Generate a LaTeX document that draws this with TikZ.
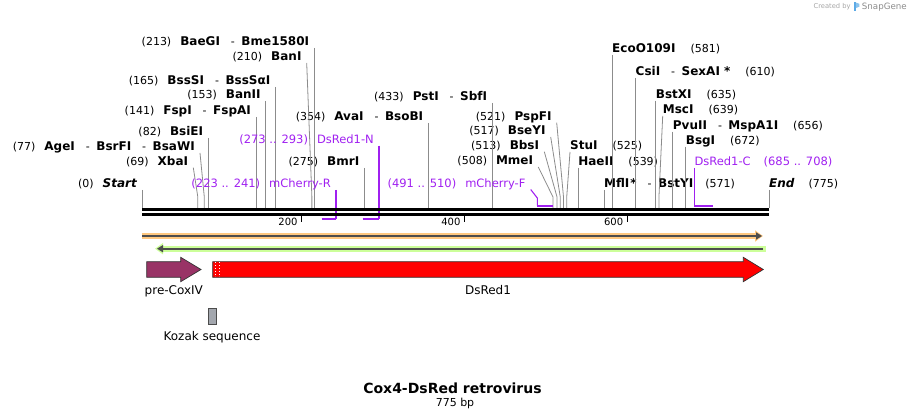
\documentclass[tikz,border=0pt]{standalone}
\usepackage{fontspec}
\setmainfont{DejaVu Sans}
\usepackage{tikz}
\usetikzlibrary{arrows.meta}
\definecolor{primcol}{HTML}{A020F0}
\definecolor{cutgray}{HTML}{8C8C8C}
\definecolor{coxcol}{HTML}{993366}
\definecolor{dsred}{HTML}{FF0000}
\definecolor{featline}{HTML}{333333}
\definecolor{orfor}{HTML}{FFC880}
\definecolor{orfgreen}{HTML}{CCFF99}
\definecolor{orfdark}{HTML}{4D4D4D}
\definecolor{kozakgray}{HTML}{A3A7AE}
\definecolor{snapblue}{HTML}{5AA9E6}
\newcommand{\ename}[1]{{\fontsize{12}{14}\selectfont\bfseries #1}}
\newcommand{\esep}{\hspace{11pt}-\hspace{6.5pt}}
\newcommand{\pgap}{\hspace{9pt}}
\newcommand{\ngap}{\hspace{15pt}}

\begin{document}
\begin{tikzpicture}[x=1pt, y=-1pt]
\tikzstyle{lsite}=[anchor=south east, inner xsep=5pt, inner ysep=0pt, text depth=2pt, font=\fontsize{11}{13}\selectfont]
\tikzstyle{rsite}=[anchor=south west, inner xsep=0pt, inner ysep=0pt, text depth=2pt, font=\fontsize{11}{13}\selectfont]
\tikzstyle{prm}=[text=primcol, font=\fontsize{11.5}{13}\selectfont]
\tikzstyle{cut}=[draw=cutgray, line width=.8pt]
\tikzstyle{primer}=[draw=primcol, line width=1.1pt]
\tikzstyle{primerbar}=[draw=primcol, line width=2pt]
\tikzstyle{flabel}=[anchor=base, inner sep=0pt, font=\fontsize{12}{14}\selectfont]
\useasboundingbox (0,0) rectangle (911,419);

% positions on the sequence
\foreach \p in {0,69,77,82,141,153,165,210,213,275,354,433,508,513,517,521,525,539,571,581,610,635,639,656,672,775}
  \coordinate (p\p) at ({142+.809*\p},208);
\coordinate (knee) at (0,197);
\coordinate (r223) at (321.7,219);
\coordinate (r241) at (336,219);
\coordinate (r273) at (362.7,219);
\coordinate (r293) at (379,219);
\coordinate (f491) at (537.3,205.7);
\coordinate (f510) at (552.7,205.7);
\coordinate (f685) at (694.3,205.7);
\coordinate (f708) at (712.7,205.7);

% enzymes, left side
\node[lsite] (Start) at (p0 |- 0,190) {(0)\pgap\ename{\itshape Start}};
\node[lsite] (XbaI) at (193.3,167.7) {(69)\pgap\ename{XbaI}};
\node[lsite] (AgeI) at (200,153) {(77)\pgap\ename{AgeI}\esep\ename{BsrFI}\esep\ename{BsaWI}};
\node[lsite] (BsiEI) at (p82 |- 0,138) {(82)\pgap\ename{BsiEI}};
\node[lsite] (FspI) at (p141 |- 0,117) {(141)\pgap\ename{FspI}\esep\ename{FspAI}};
\node[lsite] (BanII) at (p153 |- 0,101) {(153)\pgap\ename{BanII}};
\node[lsite] (BssSI) at (p165 |- 0,87) {(165)\pgap\ename{BssSI}\esep\ename{BssSαI}};
\node[lsite] (BanI) at (306.7,63) {(210)\pgap\ename{BanI}};
\node[lsite] (BaeGI) at (p213 |- 0,48) {(213)\pgap\ename{BaeGI}\esep\ename{Bme1580I}};
\node[lsite] (BmrI) at (p275 |- 0,168) {(275)\pgap\ename{BmrI}};
\node[lsite] (AvaI) at (p354 |- 0,123) {(354)\pgap\ename{AvaI}\esep\ename{BsoBI}};
\node[lsite] (PstI) at (p433 |- 0,103) {(433)\pgap\ename{PstI}\esep\ename{SbfI}};
\node[lsite] (MmeI) at (538.3,167) {(508)\pgap\ename{MmeI}};
\node[lsite] (BbsI) at (544.3,151.7) {(513)\pgap\ename{BbsI}};
\node[lsite] (BseYI) at (550.7,137) {(517)\pgap\ename{BseYI}};
\node[lsite] (PspFI) at (556.7,122.7) {(521)\pgap\ename{PspFI}};

% enzymes, right side
\node[rsite] (StuI) at (570,152) {\ename{StuI}\ngap(525)};
\node[rsite] (HaeII) at (p539 |- 0,167.7) {\ename{HaeII}\ngap(539)};
\node[rsite] (MflI) at (p571 |- 0,190) {\ename{MflI\kern1pt*}\esep\ename{BstYI}\hspace{12pt}(571)};
\node[rsite] (EcoO109I) at (p581 |- 0,55) {\ename{EcoO109I}\ngap(581)};
\node[rsite] (CsiI) at (p610 |- 0,78) {\ename{CsiI}\esep\ename{SexAI *}\ngap(610)};
\node[rsite] (BstXI) at (p635 |- 0,100.7) {\ename{BstXI}\ngap(635)};
\node[rsite] (MscI) at (662.7,116) {\ename{MscI}\ngap(639)};
\node[rsite] (PvuII) at (p656 |- 0,131.7) {\ename{PvuII}\esep\ename{MspA1I}\ngap(656)};
\node[rsite] (BsgI) at (p672 |- 0,146.7) {\ename{BsgI}\ngap(672)};
\node[rsite] (End) at (p775 |- 0,190) {\ename{\itshape End}\hspace{14pt}(775)};

\draw[cut] (Start.south east) -- (p0);
\draw[cut] (XbaI.south east) -- (p69 |- knee) -- (p69);
\draw[cut] (AgeI.south east) -- (p77 |- knee) -- (p77);
\draw[cut] (BsiEI.south east) -- (p82);
\draw[cut] (FspI.south east) -- (p141);
\draw[cut] (BanII.south east) -- (p153);
\draw[cut] (BssSI.south east) -- (p165);
\draw[cut] (BanI.south east) -- (p210 |- knee) -- (p210);
\draw[cut] (BaeGI.south east) -- (p213);
\draw[cut] (BmrI.south east) -- (p275);
\draw[cut] (AvaI.south east) -- (p354);
\draw[cut] (PstI.south east) -- (p433);
\draw[cut] (MmeI.south east) -- (p508 |- knee) -- (p508);
\draw[cut] (BbsI.south east) -- (p513 |- knee) -- (p513);
\draw[cut] (BseYI.south east) -- (p517 |- knee) -- (p517);
\draw[cut] (PspFI.south east) -- (p521 |- knee) -- (p521);
\draw[cut] (StuI.south west) -- (p525 |- knee) -- (p525);
\draw[cut] (HaeII.south west) -- (p539);
\draw[cut] (MflI.south west) -- (p571);
\draw[cut] (EcoO109I.south west) -- (p581);
\draw[cut] (CsiI.south west) -- (p610);
\draw[cut] (BstXI.south west) -- (p635);
\draw[cut] (MscI.south west) -- (p639 |- knee) -- (p639);
\draw[cut] (PvuII.south west) -- (p656);
\draw[cut] (BsgI.south west) -- (p672);
\draw[cut] (End.south west) -- (p775);

% primers
\node[lsite, prm] (mChR) at (336,190) {(223 .. 241)\pgap mCherry-R};
\node[lsite, prm] (DsN) at (379,145.7) {(273 .. 293)\pgap DsRed1-N};
\node[lsite, prm] (mChF) at (530.7,189.5) {(491 .. 510)\pgap mCherry-F};
\node[rsite, prm] (DsC) at (694.3,168) {DsRed1-C\hspace{13pt}(685 .. 708)};
\draw[primer] (mChR.south east) -- (r241);
\draw[primer] (DsN.south east) -- (r293);
\draw[primer] (mChF.south east) -- (f491 |- 0,198) -- (f491);
\draw[primer] (DsC.south west) -- (f685);
\draw[primerbar] (r223) -- (r241);
\draw[primerbar] (r273) -- (r293);
\draw[primerbar] (f491) -- (f510);
\draw[primerbar] (f685) -- (f708);

% backbone and ruler
\draw[line width=2.7pt] (142,209.6) -- (769,209.6);
\draw[line width=2.4pt] (142,214.5) -- (769,214.5);
\foreach \t/\x in {200/301.7, 400/464.6, 600/627.4} {
  \draw[line width=1.5pt] (\x,215) -- (\x,222.5);
  \node[anchor=base east, inner sep=0pt, font=\fontsize{10}{12}\selectfont] at (\x-4,226) {\t};
}

% open reading frames
\draw[orfor, line width=6pt] (141.7,236) -- (758,236);
\draw[orfor, line width=3pt, -{Triangle[length=8pt,width=11pt]}] (700,236) -- (763,236);
\draw[orfdark, line width=2.2pt, -{Triangle[length=6pt,width=7pt]}] (142,236) -- (762,236);
\draw[orfgreen, line width=6pt] (160,248.7) -- (766,248.7);
\draw[orfgreen, line width=3pt, {Triangle[length=8pt,width=11pt]}-] (155,248.7) -- (200,248.7);
\draw[orfdark, line width=2.2pt, {Triangle[length=6pt,width=7pt]}-] (157,248.7) -- (763,248.7);

% features
\draw[fill=coxcol, draw=featline, line width=.7pt] (146.7,261.7) -- (180.7,261.7) -- (180.7,257.3) -- (201,269.5) -- (180.7,281.7) -- (180.7,277.3) -- (146.7,277.3) -- cycle;
\draw[fill=dsred, draw=featline, line width=.7pt] (212.7,261.7) -- (743.3,261.7) -- (743.3,257.3) -- (763.3,269.5) -- (743.3,281.7) -- (743.3,277.3) -- (212.7,277.3) -- cycle;
\draw[white, dotted, line width=.8pt] (215.3,262.5) -- (215.3,276.5);
\draw[white, dotted, line width=.8pt] (219.3,262.5) -- (219.3,276.5);
\draw[fill=kozakgray, draw=black!70, line width=.6pt] (208.3,308.3) rectangle (216.7,324.3);
\node[flabel] (lCox) at (173.8,295) {pre-CoxIV};
\node[flabel] (lDsRed) at (488,295) {DsRed1};
\node[flabel] (lKozak) at (212,341) {Kozak sequence};

% title
\node[anchor=base, inner sep=0pt, font=\fontsize{14}{16}\selectfont\bfseries] (title) at (452.5,393.3) {Cox4-DsRed retrovirus};
\node[anchor=base, inner sep=0pt, font=\fontsize{11}{13}\selectfont] (len) at (455,406.7) {775 bp};

% watermark
\node[anchor=west, inner sep=0pt, text=black!35, font=\fontsize{6.7}{8}\selectfont] (wm) at (813.5,7) {Created by};
\fill[snapblue] (853.5,2.5) rectangle (855.8,11.5);
\fill[snapblue!70] (855.8,2.5) -- (859.3,3.8) -- (859.3,6.8) -- (855.8,8) -- cycle;
\node[anchor=west, inner sep=0pt, text=black!45, font=\fontsize{8.7}{10}\selectfont] (sg) at (861.7,7) {SnapGene};
\end{tikzpicture}
\end{document}
